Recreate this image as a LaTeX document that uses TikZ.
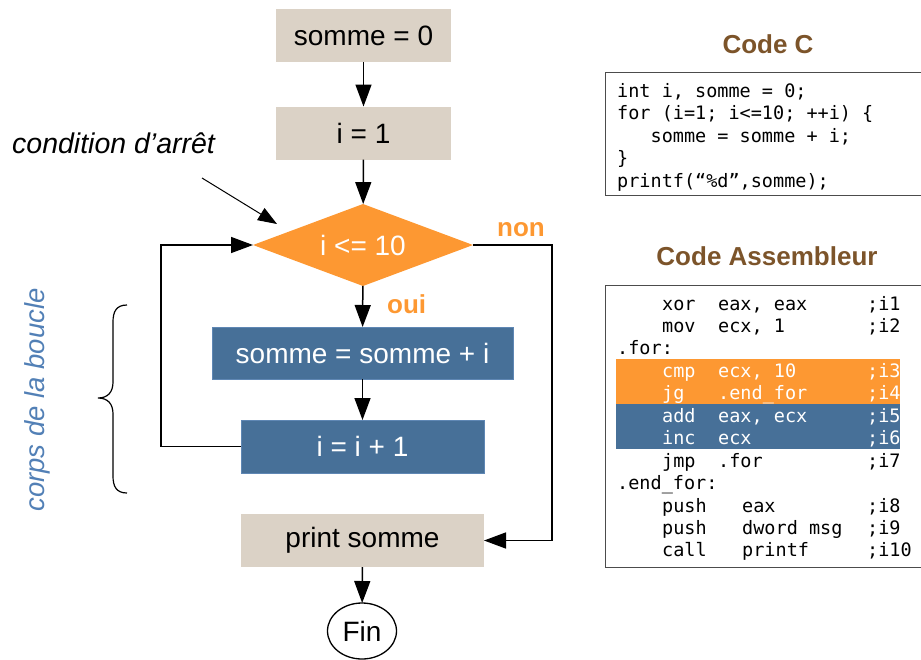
\documentclass[tikz,border=0pt]{standalone}
\usepackage{fontspec}
\setmainfont{Liberation Sans}
\setmonofont{DejaVu Sans Mono}
\usetikzlibrary{shapes.geometric,arrows.meta}

\definecolor{boxbeige}{RGB}{219,210,198}
\definecolor{boxorange}{RGB}{253,152,50}
\definecolor{boxblue}{RGB}{71,112,152}
\definecolor{edgeblue}{RGB}{95,135,180}
\definecolor{corpsblue}{RGB}{82,128,182}
\definecolor{titlebrown}{RGB}{124,84,42}

\tikzset{
	box/.style={inner sep=0,outer sep=0,minimum height=53pt,font=\fontsize{28}{32}\selectfont},
	initbox/.style={box,fill=boxbeige,minimum width=175pt},
	loopbox/.style={box,fill=boxblue,draw=edgeblue,line width=0.8pt,text=white},
	flow/.style={line width=1.5pt,-{Triangle[length=22pt,width=16pt]}},
	code/.style={inner sep=0,anchor=base west,font=\fontsize{18.5}{22}\selectfont\ttfamily},
	codebox/.style={draw=black!70,line width=1.3pt},
	title/.style={anchor=base,text=titlebrown,font=\fontsize{26}{30}\selectfont\bfseries},
	yesno/.style={anchor=base west,inner sep=0,text=boxorange,font=\fontsize{26}{30}\selectfont\bfseries}
}

\begin{document}
\begin{tikzpicture}[x=1pt,y=-1pt]
	\useasboundingbox (0,0) rectangle (921,659);
	% organigramme
	\node[initbox] (1) at (363.5,35.5) {somme = 0};
	\node[initbox] (2) at (363.5,133) {i = 1};
	\node[diamond,fill=boxorange,inner sep=0,outer sep=0,aspect=2.68,minimum width=220pt,minimum height=82pt,text=white,font=\fontsize{28}{32}\selectfont] (3) at (363,245) {i <= 10};
	\node[loopbox,minimum width=301pt,minimum height=52pt] (4) at (362.5,353) {somme = somme + i};
	\node[loopbox,minimum width=243pt] (5) at (362.5,446.5) {i = i + 1};
	\node[box,fill=boxbeige,minimum width=243pt] (6) at (362.5,540.5) {print somme};
	\node[ellipse,draw,line width=1.3pt,inner sep=0,outer sep=0,minimum width=69pt,minimum height=56pt,font=\fontsize{28}{32}\selectfont] (7) at (362,631) {Fin};
	\draw[flow] (1) -- (2);
	\draw[flow] (2) -- (3);
	\draw[flow] (3) -- (4);
	\draw[flow] (4) -- (5);
	\draw[flow] (6) -- (7);
	\draw[flow] (5.west) -- ++(-80,0) |- (3.west);
	\draw[flow] (3.east) -- ++(79,0) |- (6.east);
	\node[yesno] (non) at (497,236) {non};
	\node[yesno] (oui) at (387,313) {oui};
	% annotations
	\node[anchor=base west,inner sep=0,font=\fontsize{28.5}{32}\selectfont\itshape] (cond) at (12,153) {condition d’arrêt};
	\coordinate (cs) at (202,178);
	\coordinate (ce) at (277,224);
	\draw[line width=1pt,-{Triangle[length=19pt,width=14pt]}] (cs) -- (ce);
	\draw[line width=1.2pt] (127,305) .. controls (116,305) and (113,312) .. (113,322) -- (113,382)
		.. controls (113,392) and (108,398) .. (98,398) .. controls (108,398) and (113,404) .. (113,414)
		-- (113,476) .. controls (113,486) and (116,493) .. (127,493);
	\node[rotate=90,text=corpsblue,font=\fontsize{27.5}{32}\selectfont\itshape] (corps) at (37,400) {corps de la boucle};
	% code C
	\node[title] (tc) at (768,53) {Code C};
	\node[codebox,anchor=north west,minimum width=330pt,minimum height=123pt] (cbox) at (605,72) {};
	\foreach \t [count=\k] in {{int i, somme = 0;}, {for (i=1; i<=10; ++i) \{}, {\phantom{xxx}somme = somme + i;}, \}, {printf(“\%d”,somme);}}
		\node[code] (c\k) at (617,74.5+22.5*\k) {\t};
	% code assembleur
	\node[title] (ta) at (767,265) {Code Assembleur};
	\node[codebox,anchor=north west,minimum width=330pt,minimum height=282pt] (abox) at (605,285) {};
	\fill[boxorange] (616,359) rectangle (900,404);
	\fill[boxblue] (616,404) rectangle (900,449);
	\foreach \k/\m/\o/\c/\ox/\col in {1/xor/{eax, eax}/;i1/718/black, 2/mov/{ecx, 1}/;i2/718/black,
		4/cmp/{ecx, 10}/;i3/718/white, 5/jg/{.end\_for}/;i4/718/white, 6/add/{eax, ecx}/;i5/718/white,
		7/inc/ecx/;i6/718/white, 8/jmp/.for/;i7/718/black, 10/push/eax/;i8/742/black,
		11/push/{dword msg}/;i9/742/black, 12/call/printf/;i10/742/black} {
		\node[code,text=\col] (m\k) at (662,287.55+22.45*\k) {\m};
		\node[code,text=\col] (o\k) at (\ox,287.55+22.45*\k) {\o};
		\node[code,text=\col] (i\k) at (867,287.55+22.45*\k) {\c};
	}
	\node[code] (l3) at (617,354.9) {.for:};
	\node[code] (l9) at (617,489.6) {.end\_for:};
\end{tikzpicture}
\end{document}
